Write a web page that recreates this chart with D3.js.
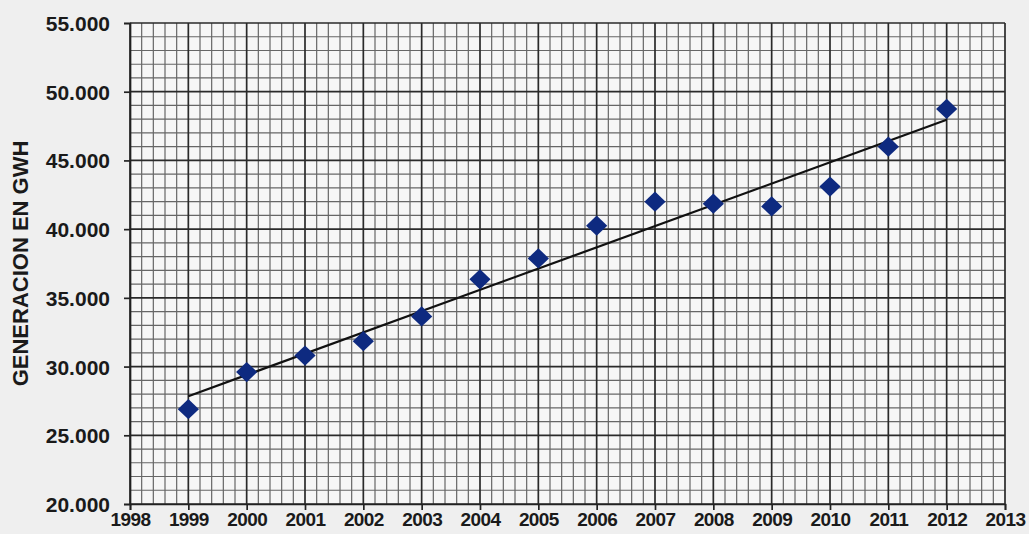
<!DOCTYPE html>
<html>
<head>
<meta charset="utf-8">
<script src="https://cdn.jsdelivr.net/npm/d3@7"></script>
<style>
  html, body { margin: 0; padding: 0; background: #efefef; }
  svg { display: block; }
  text { font-family: "Liberation Sans", Arial, sans-serif; font-weight: bold; fill: #1a1a1a; }
</style>
</head>
<body>
<svg id="chart" width="1029" height="534"></svg>
<script>
// Annual electricity generation (GWh)
const years = [1999, 2000, 2001, 2002, 2003, 2004, 2005, 2006, 2007, 2008, 2009, 2010, 2011, 2012];
const generation = [26900, 29600, 30800, 31850, 33650, 36350, 37870, 40250, 42000, 41850, 41650, 43100, 46000, 48750];
const xTicks = [1998, 1999, 2000, 2001, 2002, 2003, 2004, 2005, 2006, 2007, 2008, 2009, 2010, 2011, 2012, 2013];
const yTicks = [20000, 25000, 30000, 35000, 40000, 45000, 50000, 55000];
const yTitle = "GENERACION EN GWH";

const svg = d3.select("#chart");
const margin = { left: 130, right: 24, top: 23, bottom: 30 };
const W = 1029, H = 534;

const x = d3.scaleLinear().domain([1998, 2013]).range([margin.left, W - margin.right]);
const y = d3.scaleLinear().domain([20000, 55000]).range([H - margin.bottom, margin.top]);

// plot background
svg.append("rect")
  .attr("x", x(1998)).attr("y", y(55000))
  .attr("width", x(2013) - x(1998)).attr("height", y(20000) - y(55000))
  .attr("fill", "#f6f6f6");

// minor grid: every 0.2 year and every 1.000 GWh
const minorX = d3.range(0, 76).map(i => 1998 + i * 0.2).filter((v, i) => i % 5 !== 0);
const minorY = d3.range(20000, 55001, 1000).filter(v => v % 5000 !== 0);
const grid = svg.append("g");
grid.selectAll(".mx").data(minorX).join("line")
  .attr("x1", d => x(d)).attr("x2", d => x(d))
  .attr("y1", y(20000)).attr("y2", y(55000))
  .attr("stroke", "#666").attr("stroke-width", 1.2);
grid.selectAll(".my").data(minorY).join("line")
  .attr("x1", x(1998)).attr("x2", x(2013))
  .attr("y1", d => y(d)).attr("y2", d => y(d))
  .attr("stroke", "#666").attr("stroke-width", 1.2);
// major grid
grid.selectAll(".Mx").data(xTicks).join("line")
  .attr("x1", d => x(d)).attr("x2", d => x(d))
  .attr("y1", y(20000)).attr("y2", y(55000))
  .attr("stroke", "#2a2a2a").attr("stroke-width", 1.7);
grid.selectAll(".My").data(yTicks).join("line")
  .attr("x1", x(1998)).attr("x2", x(2013))
  .attr("y1", d => y(d)).attr("y2", d => y(d))
  .attr("stroke", "#2a2a2a").attr("stroke-width", 1.7);

// axes
const yAxis = d3.axisLeft(y).tickValues(yTicks).tickSize(6).tickPadding(14)
  .tickFormat(d => d3.format(",.0f")(d).replace(/,/g, "."));
const gy = svg.append("g").attr("transform", `translate(${x(1998)},0)`).call(yAxis);
gy.selectAll("text").style("font-size", "21px").attr("dy", "0.36em");
gy.selectAll("line, path").attr("stroke", "#222").attr("stroke-width", 1.7);

const xAxis = d3.axisBottom(x).tickValues(xTicks).tickSize(6).tickPadding(3)
  .tickFormat(d3.format("d"));
const gx = svg.append("g").attr("transform", `translate(0,${y(20000)})`).call(xAxis);
gx.selectAll("text").style("font-size", "19px").style("letter-spacing", "-0.6px");
gx.selectAll("line, path").attr("stroke", "#222").attr("stroke-width", 1.7);

// y title
svg.append("text")
  .attr("transform", `translate(28,${(y(20000) + y(55000)) / 2}) rotate(-90)`)
  .attr("text-anchor", "middle")
  .style("font-size", "22px")
  .text(yTitle);

// linear trend (least squares fit of the series)
const mx = d3.mean(years), my = d3.mean(generation);
const slope = d3.sum(years, (d, i) => (d - mx) * (generation[i] - my)) / d3.sum(years, d => (d - mx) ** 2);
const icpt = my - slope * mx;
const x0 = years[0], x1 = years[years.length - 1];
svg.append("line")
  .attr("x1", x(x0)).attr("y1", y(icpt + slope * x0))
  .attr("x2", x(x1)).attr("y2", y(icpt + slope * x1))
  .attr("stroke", "#111").attr("stroke-width", 2.2);

// markers
svg.append("g").selectAll("path").data(years).join("path")
  .attr("d", d3.symbol(d3.symbolDiamond2, 260))
  .attr("transform", (d, i) => `translate(${x(d)},${y(generation[i])}) scale(1.05,1)`)
  .attr("fill", "#0e2a80");
</script>
</body>
</html>
